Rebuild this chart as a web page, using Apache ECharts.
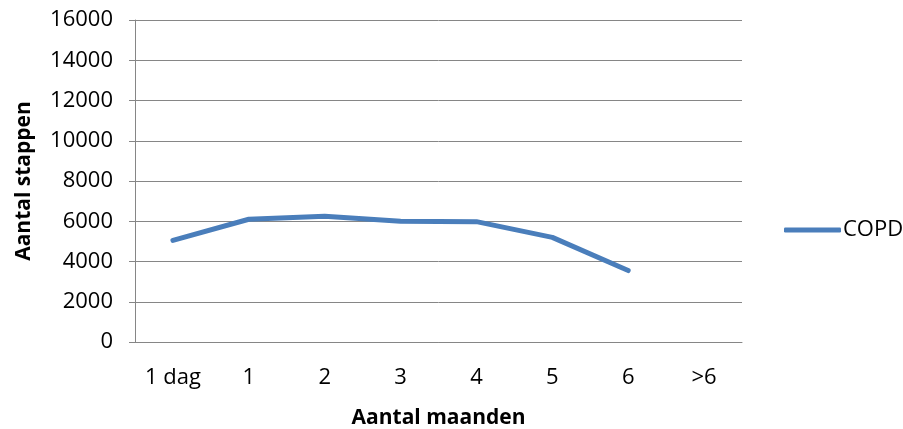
<!DOCTYPE html>
<html>
<head>
<meta charset="utf-8">
<script src="https://cdn.jsdelivr.net/npm/echarts@6/dist/echarts.min.js"></script>
<style>html,body{margin:0;padding:0;background:#fff}#c{width:903px;height:429px}</style>
</head>
<body>
<div id="c"></div>
<script>
var categories = ['1 dag', '1', '2', '3', '4', '5', '6', '>6'];
var copdValues = [5050, 6100, 6250, 6000, 5980, 5200, 3550, null];
var seriesName = 'COPD';
var yTitle = 'Aantal stappen';
var xTitle = 'Aantal maanden';

var FONT = '"Open Sans", "Liberation Sans", sans-serif';
var chart = echarts.init(document.getElementById('c'), null, {renderer: 'canvas'});
chart.setOption({
  animation: false,
  backgroundColor: '#fff',
  grid: {left: 135, right: 161, top: 20, bottom: 87, containLabel: false, outerBoundsMode: 'none'},
  legend: {
    data: [{name: seriesName, icon: 'roundRect'}],
    left: 779, top: 214, itemWidth: 57, itemHeight: 5, itemGap: 0,
    textStyle: {fontFamily: FONT, fontSize: 22, color: '#000', padding: [0, 0, 0, -3]}
  },
  xAxis: {
    type: 'category', data: categories, boundaryGap: true,
    name: xTitle, nameLocation: 'middle', nameGap: 66,
    nameTextStyle: {fontFamily: FONT, fontSize: 21, fontWeight: 'bold', color: '#000'},
    axisLine: {show: true, lineStyle: {color: '#868686', width: 1}},
    axisTick: {show: false},
    axisLabel: {fontFamily: FONT, fontSize: 22, color: '#000', margin: 25, interval: 0}
  },
  yAxis: {
    type: 'value', min: 0, max: 16000, interval: 2000,
    name: yTitle, nameLocation: 'middle', nameGap: 100, nameRotate: 90,
    nameTextStyle: {fontFamily: FONT, fontSize: 21, fontWeight: 'bold', color: '#000'},
    axisLine: {show: true, lineStyle: {color: '#868686', width: 1}},
    axisTick: {show: true, length: 6, lineStyle: {color: '#868686'}},
    axisLabel: {fontFamily: FONT, fontSize: 22, color: '#000', margin: 22,
      formatter: function (v) { return String(v); }},
    splitLine: {show: true, lineStyle: {color: '#868686', width: 1}}
  },
  series: [{
    name: seriesName, type: 'line', data: copdValues,
    symbol: 'none', connectNulls: false,
    lineStyle: {color: '#4a7ebb', width: 5, cap: 'round', join: 'round'},
    itemStyle: {color: '#4a7ebb'}
  }]
});
</script>
</body>
</html>
